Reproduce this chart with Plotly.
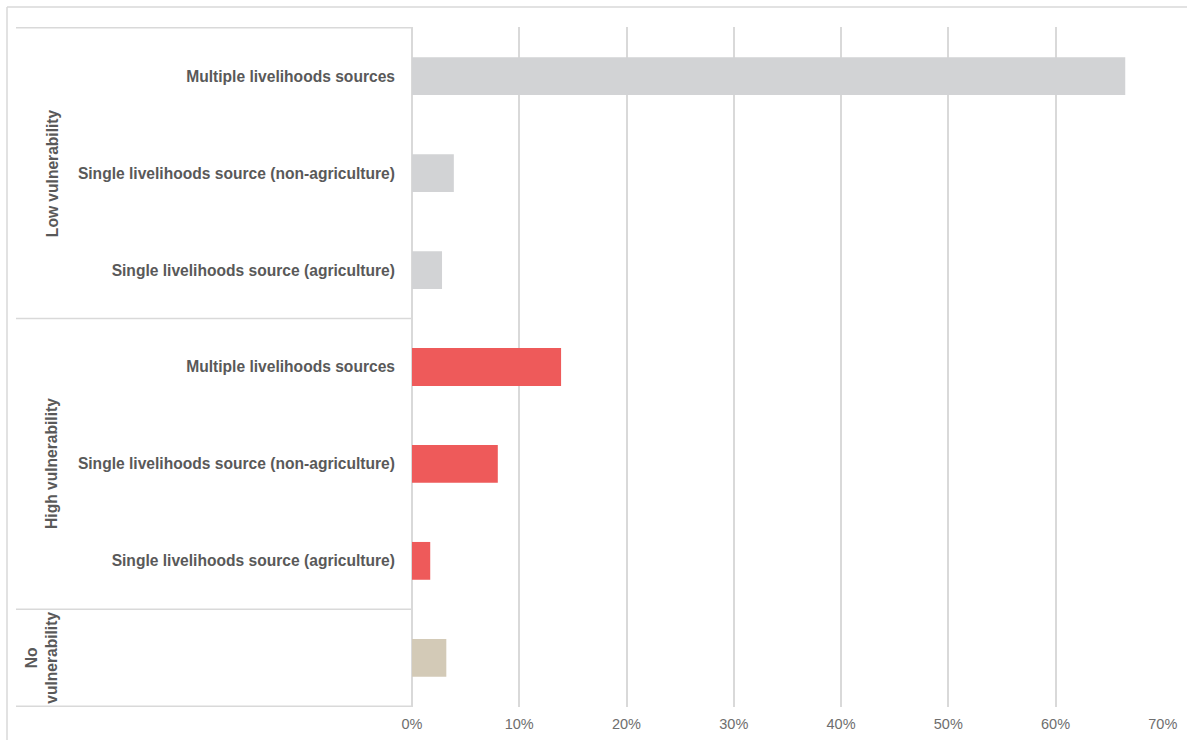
import plotly.graph_objects as go

# ---- data ----
groups = ["Low vulnerability", "High vulnerability", "No vulnerability"]
group_labels = ["Low vulnerability", "High vulnerability", "No<br>vulnerability"]
low_cats = ["Multiple livelihoods sources",
            "Single livelihoods source (non-agriculture)",
            "Single livelihoods source (agriculture)"]
high_cats = ["Multiple livelihoods sources",
             "Single livelihoods source (non-agriculture)",
             "Single livelihoods source (agriculture)"]
no_cats = [""]
low_vals = [66.5, 3.9, 2.8]
high_vals = [13.9, 8.0, 1.7]
no_vals = [3.2]
group_colors = ["#D2D3D5", "#EE5A5A", "#D3CAB7"]
x_ticks = [0, 10, 20, 30, 40, 50, 60, 70]
x_tick_labels = [f"{v}%" for v in x_ticks]

cat_lists = [low_cats, high_cats, no_cats]
val_lists = [low_vals, high_vals, no_vals]

# unique ids for each row
ids_all, text_all = [], []
for g, cats in zip(groups, cat_lists):
    for c in cats:
        ids_all.append(f"{g}|{c}")
        text_all.append(c)

fig = go.Figure()
for g, cats, vals, col in zip(groups, cat_lists, val_lists, group_colors):
    fig.add_trace(go.Bar(
        y=[f"{g}|{c}" for c in cats], x=vals, orientation="h",
        marker=dict(color=col, line=dict(width=0)), name=g, showlegend=False,
    ))

grid_col = "#D9D9D9"
L, R, T, B = 412, 24, 27, 33
W, H = 1187, 740
pw = W - L - R

def px_to_paper_x(px):
    return (px - L) / pw

fig.update_layout(
    width=W, height=H,
    margin=dict(l=L, r=R, t=T, b=B, pad=0, autoexpand=False),
    paper_bgcolor="white", plot_bgcolor="white",
    barmode="relative", bargap=0.61,
    font=dict(family="Liberation Sans, Arial, sans-serif", color="#595959"),
    xaxis=dict(range=[0, 70.02], tickvals=x_ticks, ticktext=x_tick_labels,
               showgrid=True, gridcolor=grid_col, gridwidth=1.5,
               zeroline=True, zerolinecolor=grid_col, zerolinewidth=1.5,
               showline=False, ticks="", ticklabelstandoff=6, automargin=False,
               tickfont=dict(family="Liberation Sans Narrow, Arial Narrow, Liberation Sans, sans-serif",
                             size=14.5, color="#6E6E6E")),
    yaxis=dict(categoryorder="array", categoryarray=ids_all,
               tickvals=ids_all, ticktext=text_all,
               autorange="reversed", showgrid=False, zeroline=False, showline=False,
               ticks="", ticklabelstandoff=16, automargin=False,
               tickfont=dict(size=15.6, color="#595959", family="Liberation Sans, Arial, sans-serif",
                             weight="bold")),
)

# group frame lines on the category side
bounds = [-0.5]
acc = -0.5
for cats in cat_lists:
    acc += len(cats)
    bounds.append(acc)
for b in bounds:
    fig.add_shape(type="line", xref="paper", yref="y",
                  x0=px_to_paper_x(16), x1=0, y0=b, y1=b,
                  line=dict(color=grid_col, width=1.5))

# group labels
centers = []
start = 0
for cats in cat_lists:
    centers.append(start + (len(cats) - 1) / 2)
    start += len(cats)
for lab, cy in zip(group_labels, centers):
    fig.add_annotation(text=lab, xref="paper", yref="y",
                       x=px_to_paper_x(42 if "<br>" in lab else 52), y=cy,
                       textangle=-90, showarrow=False,
                       font=dict(size=15.6, color="#595959", weight="bold"),
                       xanchor="center", yanchor="middle")

# outer chart frame
ph = H - T - B
fig.add_shape(type="line", xref="paper", yref="paper",
              x0=px_to_paper_x(7), x1=px_to_paper_x(W + 5), y0=1 + 20 / ph, y1=1 + 20 / ph,
              line=dict(color=grid_col, width=1.5))
fig.add_shape(type="line", xref="paper", yref="paper",
              x0=px_to_paper_x(7), x1=px_to_paper_x(7), y0=1 + 20 / ph, y1=-B / ph - 0.01,
              line=dict(color=grid_col, width=1.5))

fig.write_html("out.html")
